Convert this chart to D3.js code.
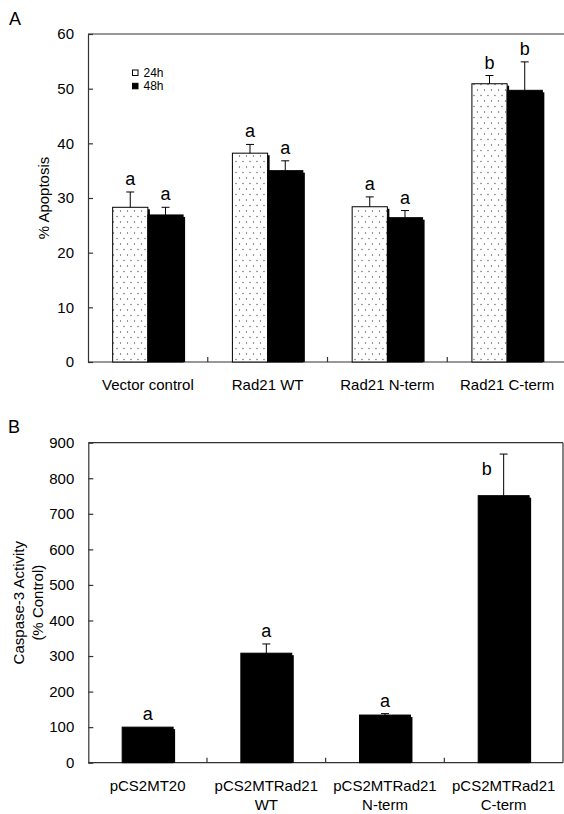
<!DOCTYPE html>
<html>
<head>
<meta charset="utf-8">
<script src="https://cdn.jsdelivr.net/npm/d3@7"></script>
<style>
body { margin:0; background:#fff; }
svg text { font-family:"Liberation Sans", Arial, sans-serif; fill:#000; }
</style>
</head>
<body>
<svg id="chart"></svg>
<script>
// Panel A: % apoptosis, 24h vs 48h
var groupsA = ["Vector control", "Rad21 WT", "Rad21 N-term", "Rad21 C-term"];
var seriesA = ["24h", "48h"];
var apop24 = [28.3, 38.2, 28.4, 50.9];
var apop24Sd = [2.8, 1.6, 1.8, 1.5];
var apop48 = [26.9, 35.0, 26.4, 49.7];
var apop48Sd = [1.4, 1.8, 1.3, 5.2];
var letters24 = ["a", "a", "a", "b"];
var letters48 = ["a", "a", "a", "b"];
var ticksA = [0, 10, 20, 30, 40, 50, 60];

// Panel B: caspase-3 activity
var groupsB = ["pCS2MT20", "pCS2MTRad21\nWT", "pCS2MTRad21\nN-term", "pCS2MTRad21\nC-term"];
var caspase = [100, 308, 134, 751];
var caspaseSd = [0, 26, 4, 117];
var lettersB = ["a", "a", "a", "b"];
var ticksB = [0, 100, 200, 300, 400, 500, 600, 700, 800, 900];

var W = 564, H = 814;
var lineCol = "#333";

var svg = d3.select("#chart").attr("width", W).attr("height", H);

var defs = svg.append("defs");
var pat = defs.append("pattern").attr("id", "dots")
  .attr("width", 7).attr("height", 11).attr("patternUnits", "userSpaceOnUse");
pat.append("rect").attr("width", 7).attr("height", 11).attr("fill", "#fff");
pat.append("circle").attr("cx", 1.5).attr("cy", 2).attr("r", 0.65).attr("fill", "#555");
pat.append("circle").attr("cx", 5).attr("cy", 7.5).attr("r", 0.65).attr("fill", "#555");

// frame + axes for one panel
var drawFrame = function(g, x, y, ticks, left, right, top, bottom, labY, labGap) {
  g.append("g")
    .attr("transform", "translate(" + left + ",0)")
    .call(d3.axisLeft(y).tickValues(ticks).tickSizeInner(-5).tickSizeOuter(0).tickPadding(14))
    .call(a => a.selectAll("text").style("font-size", "15px").style("font-family", "Liberation Sans, Arial, sans-serif"))
    .call(a => a.selectAll("line,path").attr("stroke", lineCol).attr("stroke-width", 1.2));

  g.append("line").attr("x1", left).attr("x2", right).attr("y1", top).attr("y2", top)
    .attr("stroke", lineCol).attr("stroke-width", 1.2);
  g.append("line").attr("x1", right).attr("x2", right).attr("y1", top).attr("y2", bottom)
    .attr("stroke", lineCol).attr("stroke-width", 1.2);
  g.append("line").attr("x1", left).attr("x2", right).attr("y1", bottom).attr("y2", bottom)
    .attr("stroke", lineCol).attr("stroke-width", 1.2);

  // ticks between categories
  g.selectAll(".ctick")
    .data(x.domain().slice(1))
    .enter().append("line")
      .attr("x1", d => x(d)).attr("x2", d => x(d))
      .attr("y1", bottom).attr("y2", bottom - 5)
      .attr("stroke", lineCol).attr("stroke-width", 1.2);

  // category labels (multi-line)
  var lab = g.selectAll(".clab")
    .data(x.domain())
    .enter().append("text")
      .attr("text-anchor", "middle")
      .style("font-size", "15px");
  lab.each(function(d) {
    var t = d3.select(this);
    d.split("\n").forEach((s, i) => {
      t.append("tspan")
        .attr("x", x(d) + x.bandwidth() / 2)
        .attr("y", bottom + labY + i * labGap)
        .text(s);
    });
  });
};

var drawBar = function(g, d, x, w, y, base) {
  g.append("rect")
    .attr("x", x + 2).attr("y", y(d.v) + 2)
    .attr("width", w).attr("height", base - y(d.v) - 2)
    .attr("fill", "#000");
  g.append("rect")
    .attr("x", x).attr("y", y(d.v))
    .attr("width", w).attr("height", base - y(d.v))
    .attr("fill", d.fill)
    .attr("stroke", "#000").attr("stroke-width", 1);
  var cx = x + w / 2;
  var topY = y(d.v + d.e);
  if (d.e > 0) {
    g.append("line").attr("x1", cx).attr("x2", cx).attr("y1", y(d.v)).attr("y2", topY)
      .attr("stroke", "#000").attr("stroke-width", 1);
    g.append("line").attr("x1", cx - 4).attr("x2", cx + 4).attr("y1", topY).attr("y2", topY)
      .attr("stroke", "#000").attr("stroke-width", 1);
  }
  // letter sits on top, or beside a very tall error bar
  var tall = (y(d.v) - topY) > 35;
  g.append("text")
    .attr("x", tall ? cx - 17 : cx)
    .attr("y", tall ? y(d.v) - 21 : topY - 7)
    .attr("text-anchor", "middle")
    .style("font-size", "18px")
    .text(d.letter);
};

// ---------- Panel A ----------
var gA = svg.append("g");
var A = {left: 88, right: 567, top: 34, bottom: 362};
var xA = d3.scaleBand().domain(groupsA).range([A.left, A.right]);
var xA1 = d3.scaleBand().domain(seriesA).range([0, xA.bandwidth()]).paddingOuter(0.7);
var yA = d3.scaleLinear().domain([0, 60]).range([A.bottom, A.top]);

drawFrame(gA, xA, yA, ticksA, A.left, A.right, A.top, A.bottom, 28, 20);

groupsA.forEach((grp, i) => {
  var rows = [
    {s: "24h", v: apop24[i], e: apop24Sd[i], letter: letters24[i], fill: "url(#dots)"},
    {s: "48h", v: apop48[i], e: apop48Sd[i], letter: letters48[i], fill: "#000"}
  ];
  rows.forEach(r => drawBar(gA, r, xA(grp) + xA1(r.s), xA1.bandwidth(), yA, A.bottom));
});

gA.append("text").attr("transform", "translate(43," + (A.top + A.bottom) / 2 + ") rotate(-90)")
  .attr("text-anchor", "middle").attr("dominant-baseline", "central")
  .style("font-size", "15px").text("% Apoptosis");

gA.append("text").attr("x", 9).attr("y", 25).style("font-size", "18px").text("A");

// legend
var leg = gA.append("g");
[{s: "24h", fill: "#fff"}, {s: "48h", fill: "#000"}].forEach((d, i) => {
  leg.append("rect").attr("x", 132.5).attr("y", 70 + i * 13.3).attr("width", 5.5).attr("height", 5.5)
    .attr("fill", d.fill).attr("stroke", "#000").attr("stroke-width", 1);
  leg.append("text").attr("x", 143.5).attr("y", 77.3 + i * 12.8)
    .style("font-size", "12px").text(d.s);
});

// ---------- Panel B ----------
var gB = svg.append("g");
var B = {left: 88.3, right: 563, top: 442.7, bottom: 762.7};
var xB = d3.scaleBand().domain(groupsB).range([B.left, B.right]);
var xB1 = d3.scaleBand().domain(["v"]).range([0, xB.bandwidth()]).paddingOuter(0.665);
var yB = d3.scaleLinear().domain([0, 900]).range([B.bottom, B.top]);

drawFrame(gB, xB, yB, ticksB, B.left, B.right, B.top, B.bottom, 28.5, 18.5);

groupsB.forEach((grp, i) => {
  var r = {v: caspase[i], e: caspaseSd[i], letter: lettersB[i], fill: "#000"};
  drawBar(gB, r, xB(grp) + xB1("v"), xB1.bandwidth(), yB, B.bottom);
});

var yl = gB.append("text").attr("text-anchor", "middle")
  .attr("transform", "translate(0," + (B.top + B.bottom) / 2 + ") rotate(-90)")
  .style("font-size", "15px");
yl.append("tspan").attr("x", 0).attr("y", 24).text("Caspase-3 Activity");
yl.append("tspan").attr("x", 0).attr("y", 43).text("(% Control)");

gB.append("text").attr("x", 8).attr("y", 433).style("font-size", "18px").text("B");
</script>
</body>
</html>
